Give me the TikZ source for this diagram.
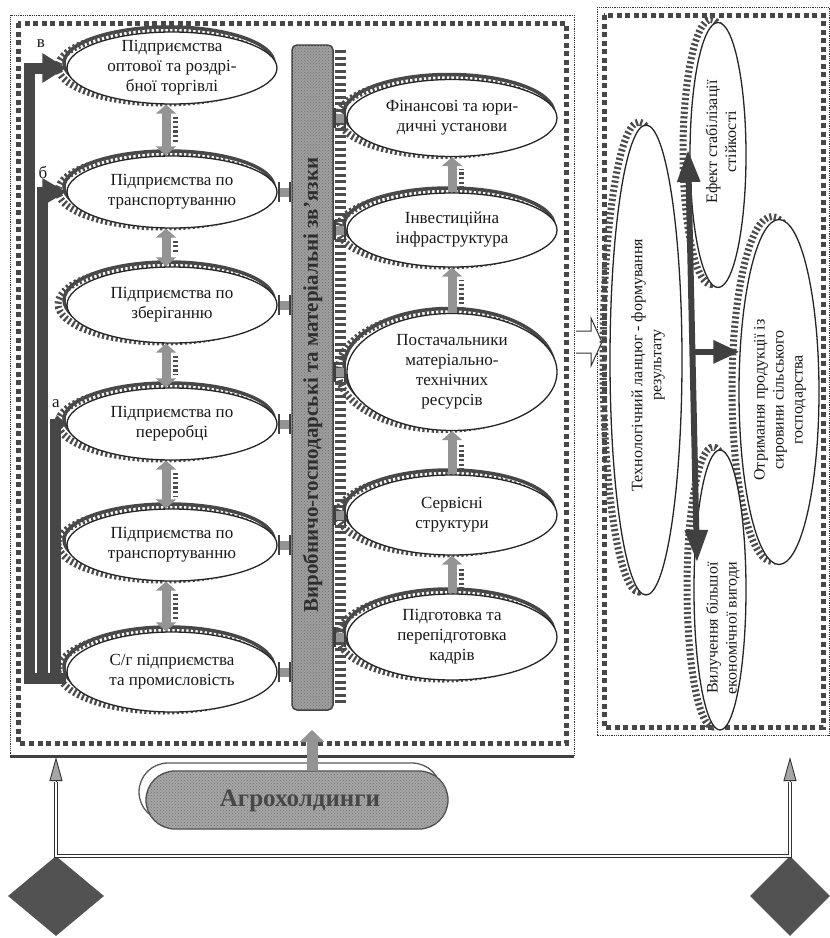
\documentclass[tikz,border=0pt]{standalone}
\usepackage{fontspec}
\setmainfont{Liberation Serif}
\usetikzlibrary{shapes.geometric,shapes.misc,arrows.meta,calc,patterns}
\newcommand\lell[5]{%
  \draw[crest] ({#2-3},{#3-5}) ellipse [x radius=105pt, y radius={#4*0.5pt}];
  \draw[comb] ({#2-9},{#3-1}) ellipse [x radius=105pt, y radius={#4*0.5pt}];
  \node[ell,minimum width=210pt,minimum height=#4pt] (#1) at (#2,#3) {};
  \node[txt] (#1t) at (#1) {#5};
}
\newcommand\vell[8]{%
  \draw[comb] ({#2-7},{#3-3}) ellipse [x radius={#4*0.5pt}, y radius={#5*0.5pt}];
  \node[ell,minimum width=#4pt,minimum height=#5pt] (#1) at (#2,#3) {};
  \node[vtxt] (#1t) at (#6,#7) {#8};
}
\begin{document}
\begin{tikzpicture}[x=1pt,y=-1pt,
  txt/.style={font=\fontsize{17}{20}\selectfont,align=center,text=black!90,inner sep=0pt},
  vtxt/.style={font=\fontsize{16}{19}\selectfont,align=center,text=black!90,inner sep=0pt,rotate=90},
  ell/.style={ellipse,draw=black!85,line width=1.3pt,fill=white,inner sep=0pt},
  comb/.style={line width=7pt,dash pattern=on 2.2pt off 2.4pt,draw=black!70},
  crest/.style={line width=3.5pt,draw=black!72},
  dotbox/.style={draw=black!80,line width=0.9pt,dash pattern=on 0.9pt off 0.9pt},
  dashbox/.style={draw=black!72,line width=5pt,dash pattern=on 5pt off 3.5pt},
  fatarr/.style={line width=9pt,draw=black!42},
  barconn/.style={line width=9pt,draw=black!42,{Bar[width=20pt,line width=2pt,color=black!75]}-{Bar[width=20pt,line width=2pt,color=black!75]}},
  brk/.style={line width=11pt,draw=black!72},
  dark/.style={line width=6pt,draw=black!75},
  dbl/.style={draw=black!80,line width=0.9pt,double=white,double distance=2.2pt},
]
\useasboundingbox (0,0) rectangle (830,938);

% boxes
\draw[dotbox] (10,756) -- (10,15) -- (574,15) -- (574,756);
\draw[dashbox] (18,23) rectangle (566,743);
\draw[line width=3pt,draw=black!75] (10,756) -- (574,756);
\draw[dotbox] (597,7) rectangle (829,735);
\draw[dashbox] (604,15) rectangle (823,727);

% central bar
\node[draw=black!75,line width=1.5pt,fill=black!38,rounded corners=5pt,
  minimum width=41pt,minimum height=665pt,inner sep=0pt,
  postaction={pattern=crosshatch dots,pattern color=black!55}] (bar) at (312.5,377.5) {};
\node[rotate=90,font=\bfseries\fontsize{21}{23}\selectfont,text=black!82,inner sep=0pt] (bartxt) at (312.5,385) {Виробничо-господарські та матеріальні зв'язки};
\draw[comb,line width=11pt,dash pattern=on 3pt off 3.5pt] ([xshift=6.5pt,yshift=-6pt]bar.north east) -- ([xshift=6.5pt,yshift=6pt]bar.south east);

% left column
\lell{e1}{172}{68}{72}{Підприємства\\оптової та роздрі-\\бної торгівлі}
\lell{e2}{172}{192}{72}{Підприємства по\\транспортуванню}
\lell{e3}{172}{305}{76}{Підприємства по\\зберіганню}
\lell{e4}{172}{424}{72}{Підприємства по\\переробці}
\lell{e5}{172}{545}{72}{Підприємства по\\транспортуванню}
\lell{e6}{172}{672}{80}{С/г підприємства\\та промисловість}

% right column
\lell{r1}{452}{118}{77}{Фінансові та юри-\\дичні установи}
\lell{r2}{452}{230}{74}{Інвестиційна\\інфраструктура}
\lell{r3}{452}{372}{117}{Постачальники\\матеріально-\\технічних\\ресурсів}
\lell{r4}{452}{515}{80}{Сервісні\\структури}
\lell{r5}{452}{637}{86}{Підготовка та\\перепідготовка\\кадрів}

% arrows in left column
\foreach \a/\b in {e1/e2,e2/e3,e3/e4,e4/e5,e5/e6}{
  \draw[fatarr,{Triangle[width=20pt,length=9pt]}-{Triangle[width=20pt,length=9pt]}] ([xshift=-6pt]\a.south) -- ([xshift=-6pt]\b.north);
  \draw[comb,line width=5pt] ([xshift=3pt,yshift=-12pt]\a.south) -- ([xshift=3pt,yshift=12pt]\b.north);
}
% arrows in right column
\foreach \a/\b in {r2/r1,r3/r2,r4/r3,r5/r4}{
  \draw[fatarr,-{Triangle[width=20pt,length=9pt]}] (\a.north) -- (\b.south);
  \draw[comb,line width=5pt] ([xshift=9pt,yshift=4pt]\a.north) -- ([xshift=9pt,yshift=-12pt]\b.south);
}
% connectors to the bar
\foreach \n in {e2,e3,e4,e5,e6}{
  \draw[barconn] (\n.east) -- (\n.east -| bar.west);
}
\foreach \n in {r1,r2,r3,r4,r5}{
  \draw[barconn] (bar.east |- \n.west) -- (\n.west);
}

% bracket а б в
\coordinate (kV) at (29,678);
\coordinate (kB) at (42,678);
\coordinate (kA) at (55,678);
\draw[brk,-{Triangle[width=28pt,length=24pt]}] (kV) -- (kV |- e1.west) -- (e1.west);
\draw[brk,-{Triangle[width=26pt,length=24pt]}] (kB) -- (kB |- e2.west) -- (e2.west);
\draw[brk,-{Triangle[width=18pt,length=10pt]}] (kA) -- (kA |- e4.west) -- (e4.west);
\draw[brk] ([xshift=-5.5pt]kV) -- (kV -| e6.west);
\node[txt] (lv) at (41,44) {в};
\node[txt] (lb) at (43,172) {б};
\node[txt] (la) at (56,404) {а};

% hollow arrow between boxes
\draw[line width=1pt,draw=black!80,fill=white] (576,331) -- (591,331) -- (591,318) -- (602,342) -- (591,366) -- (591,353) -- (576,353);

% right box
\vell{tech}{646}{360}{72}{470}{648}{365}{Технологічний ланцюг - формування\\результату}
\vell{efk}{718}{155}{56}{265}{721}{142}{Ефект стабілізації\\стійкості}
\vell{otr}{779}{392}{80}{345}{780}{400}{Отримання продукції із\\сировини сільського\\господарства}
\vell{vyl}{720}{590}{52}{280}{723}{628}{Вилучення більшої\\економічної вигоди}

\coordinate (tTop) at (688,150);
\coordinate (tBot) at (697,562);
\coordinate (tMid) at ($(tTop)!0.49!(tBot)$);
\draw[dark,{Triangle[width=22pt,length=32pt]}-{Triangle[width=22pt,length=32pt]}] (tTop) -- (tBot);
\draw[dark,-{Triangle[width=22pt,length=26pt]}] (tMid) -- (tMid -| otr.136);

% agroholdings
\node[rounded rectangle,draw=black!65,line width=1.3pt,minimum width=302pt,minimum height=58pt,inner sep=0pt] (agrosh) at (290,792) {};
\node[rounded rectangle,draw=black!70,line width=1.3pt,fill=black!35,minimum width=302pt,minimum height=58pt,inner sep=0pt,
  postaction={pattern=crosshatch dots,pattern color=black!55}] (agro) at (297,800) {};
\node[font=\bfseries\fontsize{25}{27}\selectfont,text=black!72,inner sep=0pt] (agrot) at (300,801) {Агрохолдинги};
\coordinate (agTip) at (312,730);
\draw[fatarr,line width=11pt,-{Triangle[width=24pt,length=12pt]}] ([xshift=15pt]agro.north) -- (agTip);

% bottom lines and diamonds
\node[diamond,fill=black!68,minimum width=96pt,minimum height=80pt,inner sep=0pt] (dL) at (56,896) {};
\node[diamond,fill=black!68,minimum width=80pt,minimum height=80pt,inner sep=0pt] (dR) at (790,896) {};
\coordinate (aL) at (56,757);
\coordinate (aLb) at (56,782);
\coordinate (aR) at (790,757);
\coordinate (aRb) at (790,782);
\draw[dbl] (aLb) -- (dL.north) -- (dR.north) -- (aRb);
\draw[line width=0.9pt,draw=black!80,-{Triangle[width=13pt,length=24pt,fill=black!35]}] (aLb) -- (aL);
\draw[line width=0.9pt,draw=black!80,-{Triangle[width=13pt,length=24pt,fill=black!35]}] (aRb) -- (aR);
\end{tikzpicture}
\end{document}
